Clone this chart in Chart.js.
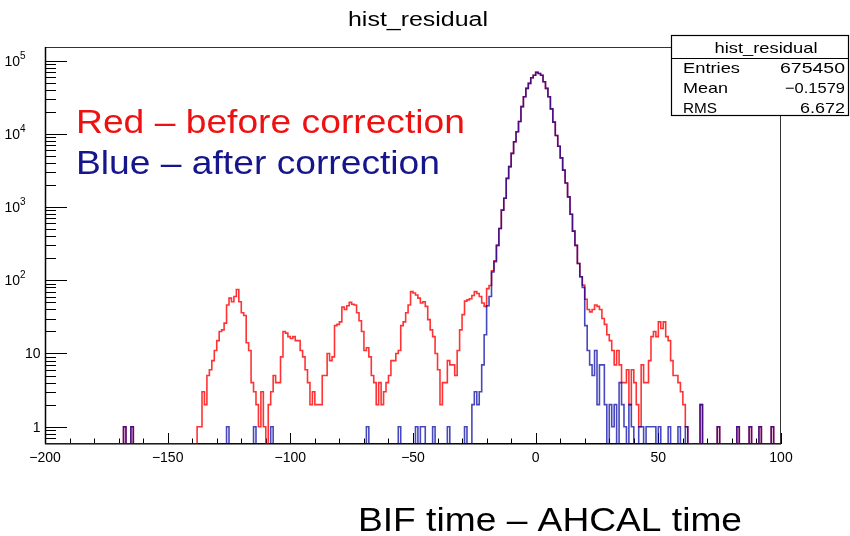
<!DOCTYPE html>
<html>
<head>
<meta charset="utf-8">
<script src="https://cdn.jsdelivr.net/npm/chart.js@4.4.1/dist/chart.umd.min.js"></script>
<style>
  html, body { margin: 0; padding: 0; background: #fff; }
  #wrap { width: 850px; height: 536px; }
</style>
</head>
<body>
<div id="wrap"><canvas id="grafico" width="850" height="536"></canvas></div>
<script>
// histogram: bins 1 unit wide from -200 to 100
const xMin = -200;
const xMax = 100;
const yMin = 0.58;
const yMax = 1.54e5;

// Red - before correction, counts per bin starting at redFirstBin
const redFirstBin = -138;
const redCounts = [
  1, 1, 3, 2, 5, 6, 8, 11, 15, 20,
  21, 26, 46, 57, 51, 60, 75, 51, 36, 33,
  14, 11, 4, 3, 2, 1, 3, 1, 0, 2,
  3, 5, 4, 4, 9, 20, 19, 17, 16, 17,
  15, 15, 11, 9, 6, 4, 2, 3, 2, 2,
  2, 5, 5, 10, 8, 9, 24, 25, 27, 43,
  40, 45, 50, 47, 46, 36, 28, 20, 11, 12,
  9, 5, 4, 2, 4, 2, 3, 4, 5, 8,
  8, 10, 11, 24, 27, 36, 46, 70, 67, 63,
  57, 49, 51, 44, 29, 21, 17, 10, 6, 2,
  4, 4, 8, 7, 7, 5, 11, 21, 34, 52,
  54, 56, 62, 70, 66, 60, 49, 44, 77, 85,
  135, 185, 300, 510, 910, 1320, 2470, 3570, 5430, 7830,
  10700, 14800, 23600, 32200, 41900, 49000, 58600, 63400, 69400, 67000,
  63400, 51600, 41900, 32200, 22000, 14500, 9500, 6800, 4700, 3200,
  2140, 1380, 800, 470, 300, 170, 112, 86, 55, 40,
  37, 40, 46, 44, 40, 30, 25, 18, 15, 11,
  7, 11, 7, 4, 4, 6, 2, 6, 4, 2,
  1, 7, 4, 4, 8, 17, 20, 17, 27, 22,
  27, 17, 15, 8, 5, 5, 4, 3, 2, 1
];
const redExtraBins = [-168, -165, 67, 74, 82, 87, 91, 96];
const redExtraCounts = [1, 1, 2, 1, 1, 1, 1, 1];

// Blue - after correction
const blueFirstBin = -26;
const blueCounts = [
  2, 3, 2, 3, 7, 18, 45, 60, 130, 180,
  300, 510, 910, 1320, 2470, 3570, 5430, 7830, 10700, 14800,
  23600, 32200, 41900, 49000, 58600, 63400, 69400, 67000, 63400, 51600,
  41900, 32200, 22000, 14500, 9500, 6800, 4700, 3200, 2140, 1380,
  800, 470, 300, 170, 112, 80, 24, 11, 7, 5,
  11, 2, 7, 7, 2, 0, 2, 1, 2, 0,
  4, 2, 1, 0, 2, 1, 0, 0, 1, 1,
  0, 1, 1, 1, 1, 0, 1, 0, 0, 0,
  1, 0, 0, 0, 1, 0, 0, 1
];
const blueExtraBins = [-168, -165, -126, -115, -108, -69, -56, -49, -47, -46, -42, -36, -29, 67, 74, 82, 87, 91, 96];
const blueExtraCounts = [1, 1, 1, 1, 1, 1, 1, 1, 1, 1, 1, 1, 1, 2, 1, 1, 1, 1, 1];

const xTicks = [-200, -150, -100, -50, 0, 50, 100];
const xTickLabels = ['\u2212200', '\u2212150', '\u2212100', '\u221250', '0', '50', '100'];
const yTicks = [1, 10, 100, 1000, 10000, 100000];
const yTickLabels = ['1', '10', '10^2', '10^3', '10^4', '10^5'];

const statNames = ['Entries', 'Mean', 'RMS'];
const statValues = ['675450', '\u22120.1579', '6.672'];

// turn bin counts into step points (low edge of every bin + closing point)
function histPoints(first, counts, extraBins, extraCounts) {
    let n = xMax - xMin;
    let full = new Array(n).fill(0);
    counts.forEach(function(c, i) { full[first + i - xMin] = c; });
    extraBins.forEach(function(b, i) { full[b - xMin] = extraCounts[i]; });
    let pts = full.map(function(c, i) {
        return { x: xMin + i, y: c > 0 ? c : yMin };
    });
    pts.push({ x: xMax, y: pts[n - 1].y });
    return pts;
}

const FONT = '"Liberation Sans", Arial, Helvetica, sans-serif';

// draw text, optionally squeezed/stretched to a given width
function txt(c, s, x, y, size, width, align, color) {
    c.save();
    c.font = size + 'px ' + FONT;
    c.fillStyle = color || '#000';
    c.textBaseline = 'alphabetic';
    c.textAlign = 'left';
    let w = c.measureText(s).width;
    let k = width ? width / w : 1;
    let x0 = x;
    if (align === 'center') x0 = x - w * k / 2;
    if (align === 'right') x0 = x - w * k;
    c.translate(x0, y);
    c.scale(k, 1);
    c.fillText(s, 0, 0);
    c.restore();
}

function line(c, x1, y1, x2, y2) {
    c.beginPath();
    c.moveTo(x1, y1);
    c.lineTo(x2, y2);
    c.stroke();
}

const decor = {
    id: 'decor',
    beforeDraw(chart) {
        let c = chart.ctx;
        c.save();
        c.fillStyle = '#fff';
        c.fillRect(0, 0, chart.width, chart.height);
        c.restore();
    },
    beforeDatasetsDraw(chart) {
        let c = chart.ctx, a = chart.chartArea;
        let xs = chart.scales.x, ys = chart.scales.y;
        c.save();
        c.lineWidth = 1;
        // frame
        c.strokeStyle = '#333';
        line(c, a.left, a.top + 0.5, a.right, a.top + 0.5);
        line(c, a.right - 0.5, a.top, a.right - 0.5, a.bottom);
        c.strokeStyle = '#000';
        c.lineWidth = 1.5;
        line(c, a.left + 0.5, a.top, a.left + 0.5, a.bottom);
        line(c, a.left, a.bottom - 0.25, a.right, a.bottom - 0.25);
        c.lineWidth = 1;
        // x ticks, inside the frame
        for (let v = xMin; v <= xMax; v += 10) {
            let px = Math.round(xs.getPixelForValue(v)) + 0.5;
            let len = (v % 50 === 0) ? 11 : 5.5;
            line(c, px, a.bottom, px, a.bottom - len);
        }
        // y ticks, log decades and 2..9
        for (let e = -1; e <= 5; e++) {
            for (let m = 1; m <= 9; m++) {
                let v = m * Math.pow(10, e);
                if (v < yMin || v > yMax) continue;
                let py = Math.round(ys.getPixelForValue(v)) + 0.5;
                let len = (m === 1) ? 22 : 11;
                line(c, a.left, py, a.left + len, py);
            }
        }
        c.restore();
    },
    afterDraw(chart) {
        let c = chart.ctx;
        let xs = chart.scales.x, ys = chart.scales.y;

        // tick labels
        xTicks.forEach(function(v, i) {
            txt(c, xTickLabels[i], xs.getPixelForValue(v), 462, 14, null, 'center');
        });
        yTicks.forEach(function(v, i) {
            let py = ys.getPixelForValue(v);
            let lab = yTickLabels[i];
            if (lab.indexOf('^') >= 0) {
                let parts = lab.split('^');
                txt(c, parts[0], 20, py + 5, 14, null, 'right');
                txt(c, parts[1], 20, py - 2, 10, null, 'left');
            } else {
                txt(c, lab, 40.5, py + 5, 14, null, 'right');
            }
        });

        // title
        txt(c, 'hist_residual', 418, 26, 20, 140, 'center');

        // stats box
        c.save();
        c.fillStyle = '#fff';
        c.fillRect(671, 35, 178, 80);
        c.strokeStyle = '#000';
        c.lineWidth = 1.2;
        c.strokeRect(671.5, 35.5, 177, 80);
        line(c, 671, 58.5, 849, 58.5);
        c.restore();
        txt(c, 'hist_residual', 766, 53, 15, 103, 'center');
        let statW = [57, 45, 34];
        let valW = [65, 60, 45];
        let rowY = [72.5, 93, 113];
        statNames.forEach(function(s, i) {
            txt(c, s, 683, rowY[i], 15, statW[i], 'left');
            txt(c, statValues[i], 845, rowY[i], 15, valW[i], 'right');
        });

        // legend-like annotations
        txt(c, 'Red \u2013 before correction', 76, 133, 34, 389, 'left', '#ee1111');
        txt(c, 'Blue \u2013 after correction', 76, 174, 34, 364, 'left', '#16168c');

        // axis title
        txt(c, 'BIF time \u2013 AHCAL time', 358, 531, 34, 384, 'left', '#000');
    }
};

let ctx = document.getElementById('grafico').getContext('2d');
var graficoChart = new Chart(ctx, {
    type: 'line',
    data: {
        datasets: [{
            label: 'after correction',
            data: histPoints(blueFirstBin, blueCounts, blueExtraBins, blueExtraCounts),
            borderColor: 'rgba(0, 0, 165, 0.72)',
            borderWidth: 1.6,
            stepped: true,
            pointRadius: 0,
            fill: false
        }, {
            label: 'before correction',
            data: histPoints(redFirstBin, redCounts, redExtraBins, redExtraCounts),
            borderColor: 'rgba(255, 0, 0, 0.8)',
            borderWidth: 1.6,
            stepped: true,
            pointRadius: 0,
            fill: false
        }]
    },
    options: {
        responsive: false,
        animation: false,
        devicePixelRatio: 1,
        layout: { padding: { left: 45, right: 69, top: 47, bottom: 92 } },
        scales: {
            x: { type: 'linear', min: xMin, max: xMax, display: false },
            y: { type: 'logarithmic', min: yMin, max: yMax, display: false }
        },
        plugins: {
            legend: { display: false },
            tooltip: { enabled: false }
        }
    },
    plugins: [decor]
});
</script>
</body>
</html>
